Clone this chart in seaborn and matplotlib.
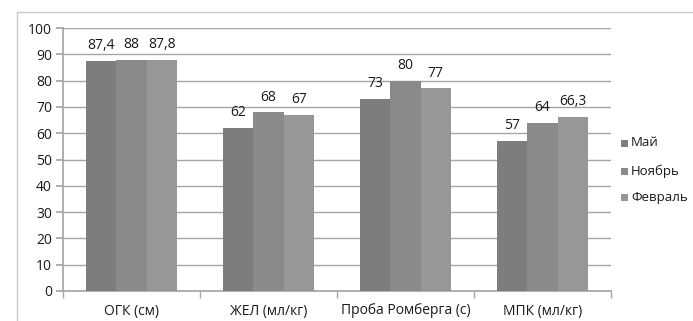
import matplotlib
matplotlib.use("Agg")
import matplotlib.pyplot as plt
from matplotlib.patches import Rectangle
import seaborn as sns
import pandas as pd

categories = ["ОГК (см)", "ЖЕЛ (мл/кг)", "Проба Ромберга (с)", "МПК (мл/кг)"]
series_names = ["Май", "Ноябрь", "Февраль"]
may = [87.4, 62, 73, 57]
november = [88, 68, 80, 64]
february = [87.8, 67, 77, 66.3]
y_ticks = [0, 10, 20, 30, 40, 50, 60, 70, 80, 90, 100]

rows = []
for name, values in zip(series_names, [may, november, february]):
    for cat, v in zip(categories, values):
        rows.append({"Показатель": cat, "Месяц": name, "Значение": v})
df = pd.DataFrame(rows)

sns.set_theme(style="white")
plt.rcParams["font.family"] = ["Open Sans", "DejaVu Sans"]

fig = plt.figure(figsize=(6.93, 3.21), dpi=100)
ax = fig.add_axes([63 / 693, 1 - 291 / 321, (611 - 63) / 693, (291 - 28) / 321])

# outer chart frame
fig.patches.append(Rectangle((17 / 693, -0.1), 1.0, (321 - 12) / 321 + 0.1,
                             transform=fig.transFigure, fill=False,
                             edgecolor="#c8c8c8", linewidth=1.0, zorder=0))

palette = ["#7d7d7d", "#8a8a8a", "#979797"]
sns.barplot(data=df, x="Показатель", y="Значение", hue="Месяц",
            order=categories, hue_order=series_names, palette=palette,
            width=0.665, saturation=1, ax=ax, legend=False, zorder=3,
            edgecolor="none", linewidth=0)

def fmt(v):
    if float(v).is_integer():
        return str(int(v))
    return f"{v:g}".replace(".", ",")

for container in ax.containers:
    ax.bar_label(container, labels=[fmt(b.get_height()) for b in container],
                 padding=5.5, fontsize=10, color="#1a1a1a")

ax.set_ylim(0, 100)
ax.set_yticks(y_ticks)
ax.set_xlim(-0.5, len(categories) - 0.5)
ax.yaxis.grid(True, color="#a6a6a6", linewidth=1.0, zorder=0)
ax.set_axisbelow(True)
for s in ["top", "right"]:
    ax.spines[s].set_visible(False)
ax.spines["bottom"].set_color("#a6a6a6")
ax.spines["left"].set_visible(True)
ax.spines["left"].set_color("#a6a6a6")
ax.set_xlabel("")
ax.set_ylabel("")
ax.tick_params(axis="y", which="major", length=5, color="#a6a6a6", labelsize=10,
               labelcolor="#1a1a1a", left=True, pad=3)
ax.tick_params(axis="x", which="major", length=0, labelsize=10, labelcolor="#1a1a1a", pad=9)
ax.set_xticks(range(len(categories)))
ax.set_xticklabels(categories)
ax.set_xticks([i + 0.5 for i in range(-1, len(categories))], minor=True)
ax.tick_params(axis="x", which="minor", length=5, color="#a6a6a6", bottom=True)

# legend
legend_y = [143, 171, 197]
for name, col, yp in zip(series_names, palette, legend_y):
    fig.patches.append(Rectangle((621 / 693, 1 - (yp + 4) / 321), 7 / 693, 7 / 321,
                                 transform=fig.transFigure, facecolor=col,
                                 edgecolor="none"))
    fig.text(631 / 693, 1 - yp / 321, name, fontsize=9.5, color="#1a1a1a",
             va="center", ha="left")

fig.savefig("out.png", dpi=100)
